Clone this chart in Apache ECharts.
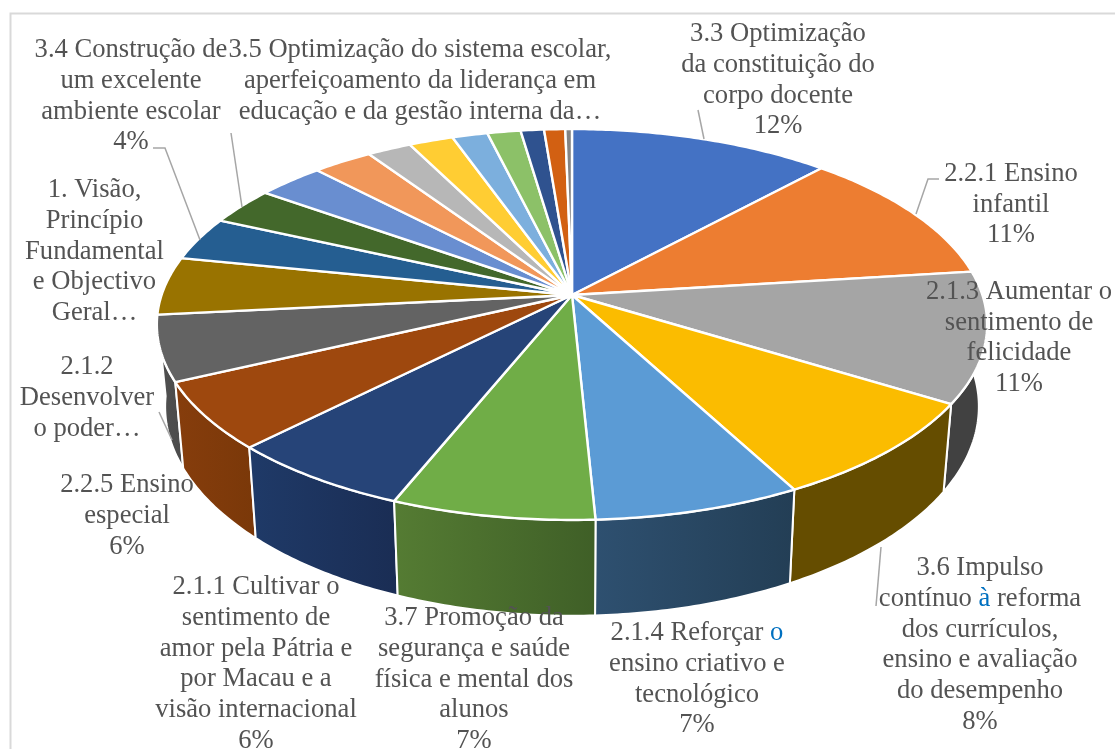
<!DOCTYPE html>
<html><head><meta charset="utf-8">
<style>html,body{margin:0;padding:0;background:#fff}#c{width:1115px;height:749px}</style>
<script src="https://cdn.jsdelivr.net/npm/echarts@6/dist/echarts.min.js"></script>
</head><body><div id="c"></div>
<script>
// Slices clockwise from 12 o'clock. Blank names: slices with no label in the reference.
const categories = [
  '3.3 Optimização\nda constituição do\ncorpo docente',
  '2.2.1 Ensino\ninfantil',
  '2.1.3 Aumentar o\nsentimento de\nfelicidade',
  '3.6 Impulso\ncontínuo {b|à} reforma\ndos currículos,\nensino e avaliação\ndo desempenho',
  '2.1.4 Reforçar {b|o}\nensino criativo e\ntecnológico',
  '3.7 Promoção da\nsegurança e saúde\nfísica e mental dos\nalunos',
  '2.1.1 Cultivar o\nsentimento de\namor pela Pátria e\npor Macau e a\nvisão internacional',
  '2.2.5 Ensino\nespecial',
  '2.1.2\nDesenvolver\no poder…',
  '1. Visão,\nPrincípio\nFundamental\ne Objectivo\nGeral…',
  '3.4 Construção de\num excelente\nambiente escolar',
  '3.5 Optimização do sistema escolar,\naperfeiçoamento da liderança em\neducação e da gestão interna da…',
  '', '', '', '', '', '', '', '', ''
];
const values = [11.8, 11.2, 10.8, 8.4, 7.0, 6.85, 6.3, 5.6, 5.4, 4.8, 3.6, 3.1, 3.0, 2.7, 2.0, 2.0, 1.6, 1.5, 1.05, 0.95, 0.3];
const showPercent = [true, true, true, true, true, true, true, true, false, false, true, false, false, false, false, false, false, false, false, false, false];
const topColors = ['#4472C4','#ED7D31','#A5A5A5','#FBBC00','#5B9BD5','#70AD47','#264478','#9E480E','#636363','#997300','#255E91','#43682B','#698ED0','#F1975A','#B7B7B7','#FFCD33','#7CAFDD','#8CC168','#2F528F','#D26012','#848484'];
const sideLeft  = ['#2c4a80','#9a5120','#414141','#654D00','#2E5070','#557C33','#1F3A68','#863D0C','#515151','#634b00','#183d5e','#2c441c','#445c87','#9d623a','#777777','#a68521','#507290','#5b7d44','#1e355d','#88400c','#565656'];
const sideRight = ['#2c4a80','#9a5120','#414141','#654D00','#233E55','#3F5F27','#1A2D54','#7A3809','#4A4A4A','#634b00','#183d5e','#2c441c','#445c87','#9d623a','#777777','#a68521','#507290','#5b7d44','#1e355d','#88400c','#565656'];

// Label placement (centre x, y of first line) and leader polylines, per labelled slice.
const labelPos = [[778,19],[1011,158.5],[1019,276.5],[980,553],[697,618],[474,603],[256,572],[127,470],[87,352],[94.5,175],[131,35],[420,35]];
const leaders = [
  [[698,110],[704,139]],
  [[939,179],[928,179],[916,214]],
  null,
  [[881,547],[876,606]],
  null, null, null, null,
  [[159,412],[172,440]],
  null,
  [[153,148],[165,148],[200,240]],
  [[231,133],[242,207]]
];

// Projection of the pie disc (tilted, with perspective) onto the page.
const CX = 572, CY = 295, A = 410.4, B = 191, P = 0.151;
const DEPTH_Y = 80, SX = 0.98, SY = 1.07;
function rim(theta) {
  const u = Math.sin(theta), v = -Math.cos(theta), w = 1 - P * v;
  return [A * u / w, B * v / w];
}
const total = values.reduce((a, b) => a + b, 0);
const cum = [0];
values.forEach(v => cum.push(cum[cum.length - 1] + v));
function arc(i) {
  const a0 = cum[i] / total * 2 * Math.PI, a1 = cum[i + 1] / total * 2 * Math.PI;
  const n = Math.max(2, Math.ceil((a1 - a0) / 0.012));
  const pts = [];
  for (let k = 0; k <= n; k++) pts.push(rim(a0 + (a1 - a0) * k / n));
  return pts;
}
const TOP = p => [CX + p[0], CY + p[1]];
const BOTTOM = p => [CX + SX * p[0], CY + DEPTH_Y + SY * p[1]];

const FONT = '26.6px "Liberation Serif"';
const option = {
  animation: false,
  backgroundColor: '#fff',
  graphic: [{ type: 'rect', silent: true, z: 0,
    shape: { x: 10.5, y: 13.5, width: 1200, height: 900 },
    style: { fill: '#fff', stroke: '#D9D9D9', lineWidth: 2 } }],
  series: [
    { type: 'custom', coordinateSystem: 'none', data: values, z: 2, silent: true,
      renderItem(params) {
        const i = params.dataIndex, pts = arc(i);
        const mid = pts[Math.floor(pts.length / 2)];
        if (mid[1] < -60) return null;
        const poly = pts.map(TOP).concat(pts.slice().reverse().map(BOTTOM));
        return { type: 'polygon', z2: Math.round(mid[1] + 300),
          shape: { points: poly },
          style: { fill: new echarts.graphic.LinearGradient(0, 0, 1, 0, [
              { offset: 0, color: sideLeft[i] }, { offset: 1, color: sideRight[i] }]),
            stroke: '#fff', lineWidth: 2, lineJoin: 'round' } };
      } },
    { type: 'custom', coordinateSystem: 'none', data: values, z: 3, silent: true,
      renderItem(params) {
        const i = params.dataIndex;
        return { type: 'polygon',
          shape: { points: [[CX, CY]].concat(arc(i).map(TOP)) },
          style: { fill: topColors[i], stroke: '#fff', lineWidth: 2.4, lineJoin: 'round' } };
      } },
    { type: 'custom', coordinateSystem: 'none', data: values, z: 4, silent: true,
      renderItem(params, api) {
        const i = params.dataIndex;
        if (!categories[i]) return null;
        const children = [];
        if (leaders[i]) children.push({ type: 'polyline', shape: { points: leaders[i] },
          style: { fill: null, stroke: '#A6A6A6', lineWidth: 1.5 } });
        const pct = Math.round(api.value(0) / total * 100) + '%';
        children.push({ type: 'text', x: labelPos[i][0], y: labelPos[i][1],
          style: { text: categories[i] + (showPercent[i] ? '\n' + pct : ''),
            font: FONT, fill: '#535353', align: 'center', verticalAlign: 'top', lineHeight: 30.7,
            rich: { b: { fill: '#0070C0', font: FONT, lineHeight: 30.7 } } } });
        return { type: 'group', children };
      } }
  ]
};
echarts.init(document.getElementById('c'), null, { renderer: 'canvas' }).setOption(option);
</script></body></html>
